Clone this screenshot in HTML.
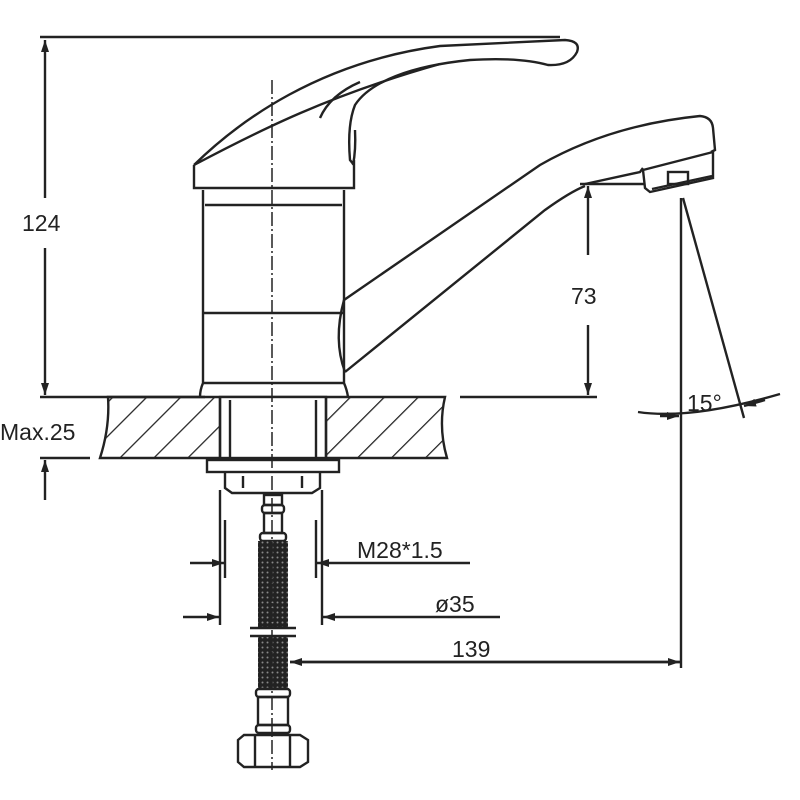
<!DOCTYPE html>
<html><head><meta charset="utf-8"><style>
html,body{margin:0;padding:0;background:#fff;}
svg{display:block;}
text{font-family:"Liberation Sans",sans-serif;fill:#222;}
</style></head><body>
<svg width="800" height="800" viewBox="0 0 800 800" xmlns="http://www.w3.org/2000/svg">
<defs>
<pattern id="hatch" patternUnits="userSpaceOnUse" width="24" height="24" patternTransform="rotate(45)">
<line x1="0" y1="0" x2="0" y2="24" stroke="#222" stroke-width="2.5"/>
</pattern>
<pattern id="braid" patternUnits="userSpaceOnUse" width="5" height="5">
<rect width="5" height="5" fill="#222"/><circle cx="2.5" cy="2.5" r="1" fill="#888"/>
</pattern>
<marker id="ar" markerWidth="12" markerHeight="8" refX="12" refY="4" orient="auto" markerUnits="userSpaceOnUse">
<path d="M0,0 L12,4 L0,8 z" fill="#222"/>
</marker>
</defs>
<g stroke="#222" stroke-width="2.4" fill="none">
<line x1="40" y1="37" x2="560" y2="37"/>
<line x1="45" y1="198" x2="45" y2="40" marker-end="url(#ar)"/>
<line x1="45" y1="248" x2="45" y2="395" marker-end="url(#ar)"/>
<line x1="40" y1="397" x2="205" y2="397"/>
<line x1="460" y1="397" x2="597" y2="397"/>
<line x1="40" y1="458" x2="90" y2="458"/>
<line x1="45" y1="500" x2="45" y2="460" marker-end="url(#ar)"/>
<path d="M108,397 L445,397 Q438,427 447,458 L100,458 Q110,427 108,397 Z" fill="url(#hatch)"/>
<rect x="220" y="397" width="106" height="61" fill="#fff"/>
<line x1="220" y1="397" x2="220" y2="458"/><line x1="326" y1="397" x2="326" y2="458"/>
<line x1="230" y1="400" x2="230" y2="458"/><line x1="316" y1="400" x2="316" y2="458"/>
<rect x="207" y="460" width="132" height="12"/>
<path d="M225,472 L225,488 L232,493 L312,493 L320,488 L320,472"/>
<line x1="243" y1="476" x2="243" y2="488"/><line x1="302" y1="476" x2="302" y2="488"/>
<rect x="264" y="495" width="18" height="10"/>
<rect x="262" y="505" width="22" height="8" rx="3"/>
<rect x="264" y="513" width="18" height="20"/>
<rect x="260" y="533" width="26" height="8" rx="3"/>
<rect x="258" y="541" width="30" height="87" fill="url(#braid)" stroke="none"/>
<line x1="250" y1="628" x2="296" y2="628"/><line x1="250" y1="636" x2="296" y2="636"/>
<rect x="258" y="637" width="30" height="52" fill="url(#braid)" stroke="none"/>
<rect x="256" y="689" width="34" height="8" rx="3"/>
<rect x="258" y="697" width="30" height="28"/>
<rect x="256" y="725" width="34" height="8" rx="3"/>
<path d="M244,735 L300,735 L308,740 L308,762 L300,767 L244,767 L238,762 L238,740 Z"/>
<line x1="255" y1="735" x2="255" y2="767"/><line x1="290" y1="735" x2="290" y2="767"/>
<line x1="225" y1="520" x2="225" y2="578"/><line x1="316" y1="520" x2="316" y2="578"/>
<line x1="220" y1="490" x2="220" y2="625"/><line x1="322" y1="490" x2="322" y2="625"/>
<line x1="190" y1="563" x2="224" y2="563" marker-end="url(#ar)"/>
<line x1="340" y1="563" x2="317" y2="563" marker-end="url(#ar)"/>
<line x1="340" y1="563" x2="470" y2="563"/>
<line x1="183" y1="617" x2="219" y2="617" marker-end="url(#ar)"/>
<line x1="345" y1="617" x2="323" y2="617" marker-end="url(#ar)"/>
<line x1="345" y1="617" x2="500" y2="617"/>
<line x1="680" y1="662" x2="290" y2="662" marker-end="url(#ar)"/>
<line x1="290" y1="662" x2="680" y2="662" marker-end="url(#ar)"/>
<path d="M194,165 L194,188 L354,188 L354,160"/>
<path d="M203,190 L203,383 Q200,390 200,397"/>
<path d="M344,190 L344,383 Q347,390 348,397"/>
<line x1="205" y1="205" x2="342" y2="205"/>
<line x1="203" y1="313" x2="344" y2="313"/>
<line x1="203" y1="383" x2="344" y2="383"/>
<path d="M194,165 C240,120 320,62 440,46 L565,40 Q581,41 577,52 Q570,66 548,65 Q520,57 470,60 C410,66 370,82 355,105 Q347,125 350,160 L354,165"/>
<path d="M194,165 C260,130 330,95 440,64"/>
<path d="M355,130 Q356,150 353,165"/>
<path d="M320,118 Q330,95 360,82"/>
<path d="M344,300 L540,165 Q610,125 700,116 Q712,117 713,128 L715,150 L711,152"/>
<path d="M345,372 Q333,340 344,300"/>
<path d="M345,372 L545,210 Q570,192 585,186"/>
<path d="M585,184 L640,172 L643,168"/>
<path d="M643,170 L713,152 L713,178 L650,192 L645,188 Z"/>
<line x1="652" y1="189" x2="712" y2="176"/>
<rect x="668" y="172" width="20" height="12"/>
<line x1="580" y1="184" x2="645" y2="184"/>
<line x1="588" y1="255" x2="588" y2="186" marker-end="url(#ar)"/>
<line x1="588" y1="325" x2="588" y2="395" marker-end="url(#ar)"/>
<line x1="681" y1="198" x2="681" y2="668"/>
<line x1="683" y1="198" x2="744" y2="418"/>
<path d="M638,412 Q690,420 780,394"/>
<line x1="660" y1="416" x2="679" y2="416" marker-end="url(#ar)"/>
<line x1="765" y1="400" x2="744" y2="406" marker-end="url(#ar)"/>
</g>
<line x1="272" y1="80" x2="272" y2="770" stroke="#222" stroke-width="1.5" stroke-dasharray="14,3,2,3"/>
<g font-size="23">
<text x="22" y="231">124</text>
<text x="571" y="304">73</text>
<text x="0" y="440">Max.25</text>
<text x="357" y="558">M28*1.5</text>
<text x="435" y="612">ø35</text>
<text x="452" y="657">139</text>
<text x="687" y="411">15°</text>
</g>
</svg>
</body></html>
